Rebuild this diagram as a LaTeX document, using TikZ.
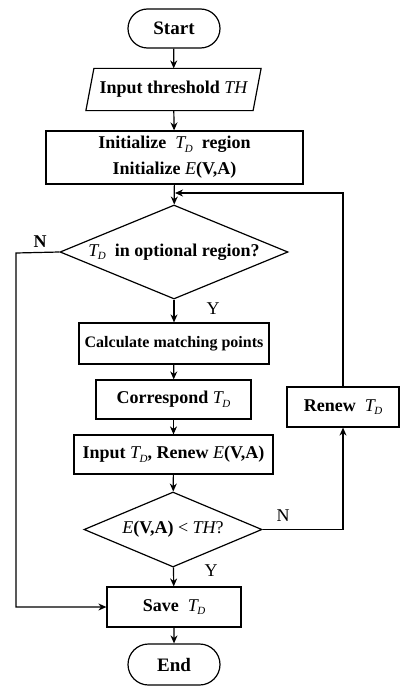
\documentclass[tikz,border=0pt]{standalone}
\usepackage{fontspec}
\setmainfont{Liberation Serif}
\usetikzlibrary{shapes.geometric,shapes.misc,arrows.meta}
\newcommand\TDsym{{\normalfont\itshape T\kern-0.5pt\raisebox{-0.45ex}{\fontsize{11}{11}\selectfont D}}}
\newcommand\Esym{{\normalfont\itshape E}}
\newcommand\THsym{{\normalfont\itshape TH}}
\begin{document}
\begin{tikzpicture}[x=1pt,y=-1pt, line width=1.2pt, >={Stealth[length=8pt,width=7pt]},
  box/.style={draw, rectangle, inner sep=0pt, align=center, font=\fontsize{18}{26}\selectfont\bfseries},
  term/.style={draw, rounded rectangle, inner sep=0pt, font=\fontsize{19}{22}\selectfont\bfseries},
  dec/.style={draw, diamond, inner sep=0pt, font=\fontsize{18}{22}\selectfont\bfseries},
  lbl/.style={inner sep=0pt, font=\fontsize{18}{20}\selectfont}]
\fill[white] (0,0) rectangle (409,693);
\path[use as bounding box] (0,0) rectangle (409,693);

\node[term, minimum width=92pt, minimum height=39pt] (start) at (174,28.5) {Start};
\node[inner sep=0pt, minimum width=166pt, minimum height=41pt, font=\fontsize{18}{22}\selectfont\bfseries] (inp) at (173.5,89.5) {Input threshold \THsym};
\draw ([xshift=-4pt]inp.south west) -- ([xshift=4pt]inp.north west) -- ([xshift=4pt]inp.north east) -- ([xshift=-4pt]inp.south east) -- cycle;
\node[box, minimum width=257pt, minimum height=53pt] (init) at (174.5,157.5) {Initialize \ \TDsym\ \ region\\Initialize \Esym(V,A)};
\node[dec, minimum width=228pt, minimum height=94pt, aspect=2.43] (d1) at (174,252) {\TDsym\ \ in optional region?};
\node[box, minimum width=190pt, minimum height=41pt, font=\fontsize{16}{20}\selectfont\bfseries] (calc) at (174,343.5) {Calculate matching points};
\node[box, minimum width=155pt, minimum height=39pt] (corr) at (173.5,399.5) {Correspond \TDsym};
\node[box, minimum width=199pt, minimum height=39pt] (inr) at (173.5,454.5) {Input \TDsym, Renew \Esym(V,A)};
\node[dec, minimum width=178pt, minimum height=75pt, aspect=2.37] (d2) at (173,529.5) {\Esym(V,A) {\mdseries <} \THsym{\mdseries ?}};
\node[box, minimum width=112pt, minimum height=40pt] (renew) at (343,407) {Renew \ \TDsym};
\node[box, minimum width=134pt, minimum height=40pt] (save) at (174,607) {Save \ \TDsym};
\node[term, minimum width=92pt, minimum height=41pt] (end) at (174,664.5) {End};

\coordinate (fb) at (175,193);
\coordinate (lc) at (16,253);

\draw[->] (start) -- (inp);
\draw[->] (inp) -- (init);
\draw[->] (init) -- (d1);
\draw[->] (d1) -- (calc);
\draw[->] (calc) -- (corr);
\draw[->] (corr) -- (inr);
\draw[->] (inr) -- (d2);
\draw[->] (d2) -- (save);
\draw[->] (save) -- (end);
\draw[->] (d2.east) -| (renew.south);
\draw[->] (renew.north) |- (fb);
\draw[->] (d1.west) -- (lc) |- (save.west);

\node[lbl, font=\fontsize{18}{20}\selectfont\bfseries] (n1) at (40,242) {N};
\node[lbl] (y1) at (213,309) {Y};
\node[lbl] (n2) at (283,516) {N};
\node[lbl] (y2) at (211,571) {Y};
\end{tikzpicture}
\end{document}
